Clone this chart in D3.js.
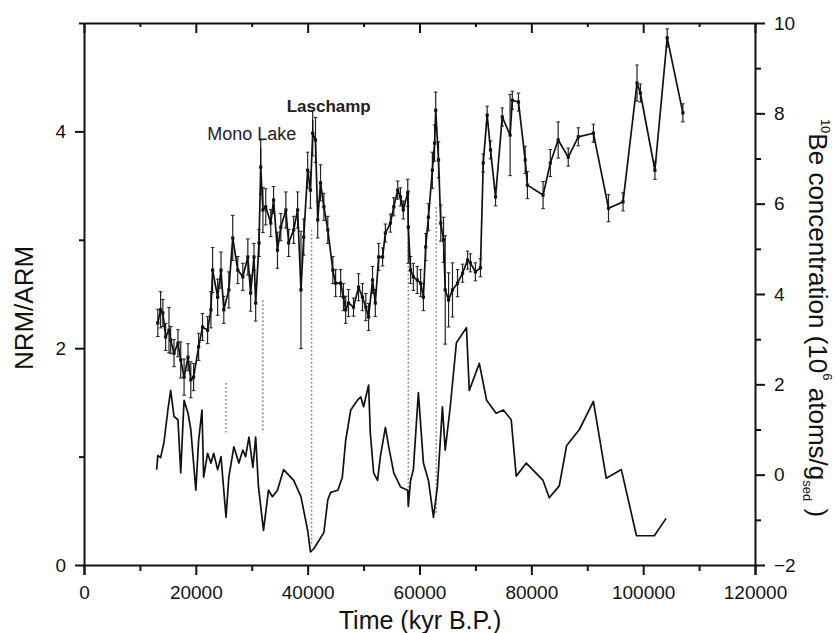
<!DOCTYPE html>
<html>
<head>
<meta charset="utf-8">
<script src="https://cdn.jsdelivr.net/npm/d3@7"></script>
<style>
  body { margin: 0; background: #fff; }
  svg { display: block; font-family: "Liberation Sans", Arial, sans-serif; }
  .axis path, .axis line { stroke: #111; }
  .axis text { fill: #111; }
</style>
</head>
<body>
<div id="chart"></div>
<script>
// NRM/ARM (left axis)
const nrmAge = [
  13000,13200,13700,14300,15000,15500,16100,16800,17300,17700,
  17900,18600,19100,20000,20500,21100,21400,22100,22700,23200,
  23900,24500,25400,25900,26800,27700,28400,28900,29500,30200,
  30700,31200,32100,33000,33700,34600,35700,37500,38800,40000,
  40500,41100,42900,43600,44100,45400,46200,46800,47700,48900,
  49500,50000,50900,51200,51800,52500,53000,53900,54500,55400,
  56600,57900,58000,58400,58900,59800,60700,61600,62500,63200,
  64100,64600,65500,66600,68400,68900,70700,72000,73700,75000,
  76400,77300,79100,82100,83200,85000,86300,88600,91100,93400,
  96100,98800,102000,104100
];
const nrmVal = [
  0.88,1.01,0.99,1.13,1.43,1.61,1.37,1.34,0.85,1.31,
  1.52,1.40,1.25,0.69,1.15,1.43,0.81,1.03,0.94,1.03,
  0.88,1.00,0.44,0.81,1.09,0.94,1.06,1.00,1.18,0.90,
  1.18,0.72,0.32,0.69,0.63,0.69,0.88,0.78,0.63,0.32,
  0.12,0.15,0.30,0.60,0.67,0.69,0.81,1.15,1.43,1.52,
  1.55,1.46,1.66,1.22,0.85,0.78,1.00,1.27,1.09,0.85,
  0.72,0.69,0.54,0.78,0.88,1.59,0.94,0.78,0.44,0.72,
  1.46,1.06,1.46,2.05,2.19,1.61,1.86,1.52,1.40,1.43,
  1.34,0.82,0.94,0.78,0.62,0.73,1.10,1.25,1.51,0.80,
  0.88,0.27,0.27,0.43
];

// 10Be concentration (right axis) with error
const beAge = [
  13200,13700,14100,14600,15200,15500,16100,16800,17300,17900,
  18600,19100,19600,20500,21200,22100,22700,23000,23900,24500,
  25000,25900,26600,27500,28400,29300,29800,30400,30700,31300,
  31600,32000,32500,33400,33900,34600,35200,36100,36600,37500,
  38200,38800,39300,40000,40500,40900,41400,41800,42300,42900,
  43600,44500,45000,45900,46400,46800,47300,48200,49100,49800,
  50400,50900,51600,52100,52700,53400,53900,54800,55400,56100,
  56600,57100,57900,58000,58400,58900,59600,60200,60700,61100,
  61600,62300,62700,62900,63400,63800,64300,64600,65200,65900,
  66800,67700,68600,69100,70000,70900,71400,72100,72700,73600,
  74800,76200,76600,77700,78900,79300,82100,83400,84800,86600,
  88400,91100,93800,96400,98900,99500,102100,104300,107100
];
const beVal = [
  3.36,3.65,3.58,3.05,3.20,2.98,2.69,2.91,2.54,2.16,
  2.60,2.10,2.16,2.83,3.27,3.20,3.65,4.53,3.93,4.53,
  3.65,4.09,5.24,4.53,4.38,4.82,4.02,4.82,3.80,5.13,
  6.81,5.86,5.93,5.57,6.08,4.97,5.48,5.86,5.13,5.42,
  5.86,4.09,5.26,6.74,6.30,7.56,7.41,5.64,6.46,5.93,
  5.42,4.53,4.24,4.24,3.93,3.65,3.80,3.71,4.15,3.93,
  3.71,3.49,4.31,3.80,4.82,4.82,5.35,5.57,5.93,6.30,
  6.15,5.86,6.24,5.48,4.53,4.38,4.31,4.24,3.93,5.04,
  5.70,6.74,7.34,8.07,6.97,5.57,5.20,4.09,3.87,4.09,
  4.24,4.46,4.75,4.69,4.49,4.58,6.90,7.96,7.19,6.15,
  7.92,7.52,8.29,8.25,6.97,6.41,6.19,6.90,7.41,7.03,
  7.48,7.56,5.90,6.04,8.67,8.45,6.74,9.67,8.01
];
const beErr = [
  0.3,0.4,0.3,0.3,0.5,0.3,0.3,0.3,0.4,0.4,
  0.3,0.4,0.3,0.3,0.3,0.3,0.4,0.5,0.4,0.4,
  0.3,0.4,0.5,0.3,0.3,0.4,0.4,0.3,0.4,0.3,
  0.6,0.5,0.4,0.3,0.3,0.4,0.3,0.4,0.3,0.3,
  0.4,1.3,0.4,0.4,0.4,0.5,0.5,0.4,0.4,0.3,
  0.3,0.3,0.3,0.3,0.3,0.3,0.3,0.2,0.3,0.3,
  0.3,0.3,0.3,0.3,0.3,0.2,0.2,0.2,0.2,0.2,
  0.2,0.2,0.3,0.8,0.3,0.3,0.3,0.3,0.3,0.3,
  0.3,0.4,0.4,0.4,0.4,0.4,0.5,1.2,0.6,0.6,
  0.3,0.2,0.2,0.2,0.2,0.2,0.2,0.2,0.2,0.2,
  0.2,0.9,0.2,0.2,0.3,0.3,0.3,0.3,0.4,0.2,
  0.2,0.2,0.3,0.2,0.4,0.2,0.2,0.2,0.2
];

// dotted correlation lines (NRM/ARM units)
const exAge = [25400, 32000, 40700, 58000, 63000];
const exTop = [1.68, 2.44, 3.09, 3.09, 3.30];
const exBottom = [1.22, 1.22, 0.18, 0.55, 0.48];

// named excursions (pointer top in 10Be units)
const annoLabel = ["Mono Lake", "Laschamp"];
const annoAge = [31600, 40900];
const annoVal = [6.81, 7.56];
const annoTop = [7.23, 7.85];

const xTicks = [0, 20000, 40000, 60000, 80000, 100000, 120000];
const xMinor = [10000, 30000, 50000, 70000, 90000, 110000];
const yLeftTicks = [0, 2, 4];
const yLeftMinor = [1, 3, 5];
const yRightTicks = [-2, 0, 2, 4, 6, 8, 10];
const yRightMinor = [-1, 1, 3, 5, 7, 9];

const width = 836, height = 633;
const margin = {top: 23, right: 81, bottom: 68, left: 84};

const svg = d3.select("#chart").append("svg")
    .attr("width", width)
    .attr("height", height);

svg.append("rect").attr("width", width).attr("height", height).attr("fill", "#fff");

let x = d3.scaleLinear().domain([0, 120000]).range([margin.left, width - margin.right]);
let yL = d3.scaleLinear().domain([0, 5]).range([height - margin.bottom, margin.top]);
let yR = d3.scaleLinear().domain([-2, 10]).range([height - margin.bottom, margin.top]);

const bottomY = height - margin.bottom;
const rightX = width - margin.right;

// axes
function styleAxis(g) {
    g.attr("class", "axis");
    g.selectAll("path").attr("stroke-width", 2);
    g.selectAll("line").attr("stroke-width", 2);
    g.selectAll("text").style("font-size", "19px");
}

svg.append("g")
    .attr("transform", "translate(0," + bottomY + ")")
    .call(d3.axisBottom(x).tickValues(xTicks).tickFormat(d3.format("d")).tickSize(10).tickPadding(11))
    .call(styleAxis);
svg.append("g")
    .attr("transform", "translate(0," + bottomY + ")")
    .call(d3.axisBottom(x).tickValues(xMinor).tickFormat("").tickSize(6))
    .call(styleAxis)
    .select("path").remove();

svg.append("g")
    .attr("transform", "translate(0," + margin.top + ")")
    .call(d3.axisBottom(x).tickValues(xTicks).tickFormat("").tickSize(10).tickSizeOuter(0))
    .call(styleAxis);
svg.append("g")
    .attr("transform", "translate(0," + margin.top + ")")
    .call(d3.axisBottom(x).tickValues(xMinor).tickFormat("").tickSize(4))
    .call(styleAxis)
    .select("path").remove();

svg.append("g")
    .attr("transform", "translate(" + margin.left + ",0)")
    .call(d3.axisLeft(yL).tickValues(yLeftTicks).tickFormat(d3.format("d")).tickSize(9).tickPadding(9).tickSizeOuter(0))
    .call(styleAxis);
svg.append("g")
    .attr("transform", "translate(" + margin.left + ",0)")
    .call(d3.axisLeft(yL).tickValues(yLeftMinor).tickFormat("").tickSize(5))
    .call(styleAxis)
    .select("path").remove();

svg.append("g")
    .attr("transform", "translate(" + rightX + ",0)")
    .call(d3.axisRight(yR).tickValues(yRightTicks).tickFormat(d3.format("d")).tickSize(10).tickPadding(9).tickSizeOuter(0))
    .call(styleAxis);
svg.append("g")
    .attr("transform", "translate(" + rightX + ",0)")
    .call(d3.axisRight(yR).tickValues(yRightMinor).tickFormat("").tickSize(6))
    .call(styleAxis)
    .select("path").remove();

// dotted lines
svg.append("g").selectAll("line")
    .data(exAge)
    .enter()
    .append("line")
    .attr("x1", d => x(d)).attr("x2", d => x(d))
    .attr("y1", (d, i) => yL(exTop[i]))
    .attr("y2", (d, i) => yL(exBottom[i]))
    .attr("stroke", "#777")
    .attr("stroke-width", 1.5)
    .attr("stroke-dasharray", "1.5,2.5");

// NRM/ARM curve
const nrmData = nrmAge.map((t, i) => [t, nrmVal[i]]);
svg.append("path")
    .datum(nrmData)
    .attr("fill", "none")
    .attr("stroke", "#111")
    .attr("stroke-width", 1.7)
    .attr("stroke-linejoin", "round")
    .attr("d", d3.line().x(d => x(d[0])).y(d => yL(d[1])));

// 10Be curve
const beData = beAge.map((t, i) => ({t: t, v: beVal[i], e: beErr[i]}));
const bars = svg.append("g").selectAll("g")
    .data(beData)
    .enter()
    .append("g");
bars.append("line")
    .attr("x1", d => x(d.t)).attr("x2", d => x(d.t))
    .attr("y1", d => yR(d.v + d.e)).attr("y2", d => yR(d.v - d.e))
    .attr("stroke", "#222").attr("stroke-width", 1.2);
bars.append("line")
    .attr("x1", d => x(d.t) - 1.8).attr("x2", d => x(d.t) + 1.8)
    .attr("y1", d => yR(d.v + d.e)).attr("y2", d => yR(d.v + d.e))
    .attr("stroke", "#222").attr("stroke-width", 1);
bars.append("line")
    .attr("x1", d => x(d.t) - 1.8).attr("x2", d => x(d.t) + 1.8)
    .attr("y1", d => yR(d.v - d.e)).attr("y2", d => yR(d.v - d.e))
    .attr("stroke", "#222").attr("stroke-width", 1);

svg.append("path")
    .datum(beData)
    .attr("fill", "none")
    .attr("stroke", "#111")
    .attr("stroke-width", 1.7)
    .attr("stroke-linejoin", "round")
    .attr("d", d3.line().x(d => x(d.t)).y(d => yR(d.v)));

bars.append("rect")
    .attr("x", d => x(d.t) - 1.6)
    .attr("y", d => yR(d.v) - 1.6)
    .attr("width", 3.2).attr("height", 3.2)
    .attr("fill", "#111");

// annotations
annoLabel.forEach((label, i) => {
    svg.append("line")
        .attr("x1", x(annoAge[i])).attr("x2", x(annoAge[i]))
        .attr("y1", yR(annoTop[i])).attr("y2", yR(annoVal[i]))
        .attr("stroke", "#111").attr("stroke-width", 1.3);
    svg.append("text")
        .attr("x", x(annoAge[i]) + (i === 0 ? -9 : 16))
        .attr("y", yR(annoTop[i]) - 8)
        .attr("text-anchor", "middle")
        .style("font-size", i === 0 ? "18px" : "17px")
        .style("font-weight", i === 1 ? "bold" : "normal")
        .attr("fill", "#222")
        .text(label);
});

// axis titles
svg.append("text")
    .attr("transform", "translate(33,308) rotate(-90)")
    .attr("text-anchor", "middle")
    .style("font-size", "26px")
    .attr("fill", "#111")
    .text("NRM/ARM");

svg.append("text")
    .attr("x", 420)
    .attr("y", 629)
    .attr("text-anchor", "middle")
    .style("font-size", "25px")
    .attr("fill", "#111")
    .text("Time (kyr B.P.)");

const rt = svg.append("text")
    .attr("transform", "translate(809,318) rotate(90)")
    .attr("text-anchor", "middle")
    .style("font-size", "26px")
    .attr("fill", "#111");
rt.append("tspan").attr("dy", -12).style("font-size", "13px").text("10");
rt.append("tspan").attr("dy", 12).text("Be concentration (10");
rt.append("tspan").attr("dy", -14).style("font-size", "13px").text("6");
rt.append("tspan").attr("dy", 14).text(" atoms/g");
rt.append("tspan").attr("dy", 6).style("font-size", "13px").text("sed");
rt.append("tspan").attr("dy", -6).text(" )");
</script>
</body>
</html>
